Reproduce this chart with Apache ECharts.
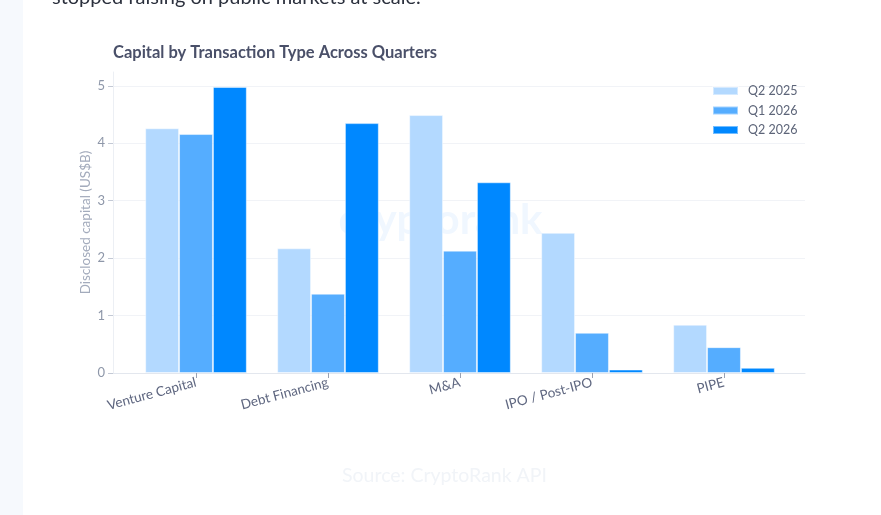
<!DOCTYPE html>
<html>
<head>
<meta charset="utf-8">
<script src="https://cdn.jsdelivr.net/npm/echarts@6/dist/echarts.min.js"></script>
<style>
  html, body { margin: 0; padding: 0; background: #ffffff; }
  #chart { width: 881px; height: 515px; }
</style>
</head>
<body>
<div id="chart"></div>
<script>
// categories and quarters
var categories = ['Venture Capital', 'Debt Financing', 'M&A', 'IPO / Post-IPO', 'PIPE'];
var quarters = ['Q2 2025', 'Q1 2026', 'Q2 2026'];

// disclosed capital, US$B
var q2_2025 = [4.26, 2.17, 4.49, 2.44, 0.84];
var q1_2026 = [4.16, 1.38, 2.13, 0.70, 0.45];
var q2_2026 = [4.98, 4.35, 3.32, 0.06, 0.09];

var yTicks = [0, 1, 2, 3, 4, 5];
var colors = ['#b3d9ff', '#55adff', '#0088ff'];

var font = 'Lato, "Noto Sans", sans-serif';
var myChart = echarts.init(document.getElementById('chart'));

function barSeries(name, data, color) {
    return {
        name: name,
        type: 'bar',
        xAxisIndex: 1,
        yAxisIndex: 1,
        data: data,
        barGap: '0%',
        barCategoryGap: '23%',
        itemStyle: {
            color: color,
            borderColor: 'rgba(255,255,255,0.45)',
            borderWidth: 1
        }
    };
}

var option = {
    animation: false,
    backgroundColor: '#ffffff',
    textStyle: { fontFamily: font },
    title: {
        text: 'Capital by Transaction Type Across Quarters',
        left: 108,
        top: 39,
        textStyle: { fontSize: 16.5, fontWeight: 'bold', color: '#4a5069', fontFamily: font }
    },
    legend: {
        data: quarters,
        orient: 'vertical',
        left: 707,
        top: 79,
        itemWidth: 25,
        itemHeight: 8,
        itemGap: 5.5,
        icon: 'rect',
        textStyle: { fontSize: 12.5, color: '#5d6579', lineHeight: 14, padding: [0, 0, 0, 5], fontFamily: font }
    },
    graphic: [
        { type: 'rect', left: 0, top: 0, z: -10, shape: { width: 23, height: 515 }, style: { fill: '#f6f9fd' } },
        { type: 'text', left: 52, top: -12, style: { text: 'stopped raising on public markets at scale.', fontSize: 20, fill: '#2b303d', fontFamily: font } },
        { type: 'text', left: 'center', top: 199, z: -5, style: { text: 'cryptorank', fontSize: 42, fontWeight: 'bold', fill: '#f0f7ff', fontFamily: font } },
        { type: 'text', left: 342, top: 466, style: { text: 'Source: CryptoRank API', fontSize: 19.5, fill: '#f1f4f8', fontFamily: font } }
    ],
    grid: [
        { left: 113, right: 76, top: 72, bottom: 142 },
        { left: 130, right: 91, top: 72, bottom: 142 }
    ],
    xAxis: [
        {
            type: 'value', gridIndex: 0, min: 0, max: 1,
            axisLine: { show: true, lineStyle: { color: '#e3e7ee', width: 1 } },
            axisTick: { show: false }, axisLabel: { show: false }, splitLine: { show: false }
        },
        {
            type: 'category', gridIndex: 1, data: categories,
            axisLine: { show: false },
            axisTick: { show: true, alignWithLabel: true, length: 5, lineStyle: { color: '#9aa2b3' } },
            axisLabel: { rotate: 15, fontSize: 13.5, color: '#5f6780', margin: 9, interval: 0, fontFamily: font }
        }
    ],
    yAxis: [
        {
            type: 'value', gridIndex: 0, min: 0, max: 5.24, interval: 1,
            name: 'Disclosed capital (US$B)',
            nameLocation: 'middle',
            nameGap: 20,
            nameMoveOverlap: false,
            nameTextStyle: { fontSize: 13.5, color: '#a3abbc', fontFamily: font },
            axisLine: { show: true, lineStyle: { color: '#eceff4' } },
            axisTick: { show: true, length: 5, lineStyle: { color: '#c3c9d5' } },
            axisLabel: {
                fontSize: 13, color: '#8e97a9', margin: 8, showMaxLabel: false, fontFamily: font,
                formatter: function (v) { return yTicks.indexOf(v) >= 0 ? String(v) : ''; }
            },
            splitLine: { show: true, showMaxLine: false, lineStyle: { color: '#f1f3f7' } }
        },
        {
            type: 'value', gridIndex: 1, min: 0, max: 5.24, interval: 1, show: false,
            splitLine: { show: false }
        }
    ],
    series: [
        barSeries(quarters[0], q2_2025, colors[0]),
        barSeries(quarters[1], q1_2026, colors[1]),
        barSeries(quarters[2], q2_2026, colors[2])
    ]
};
myChart.setOption(option);
</script>
</body>
</html>
